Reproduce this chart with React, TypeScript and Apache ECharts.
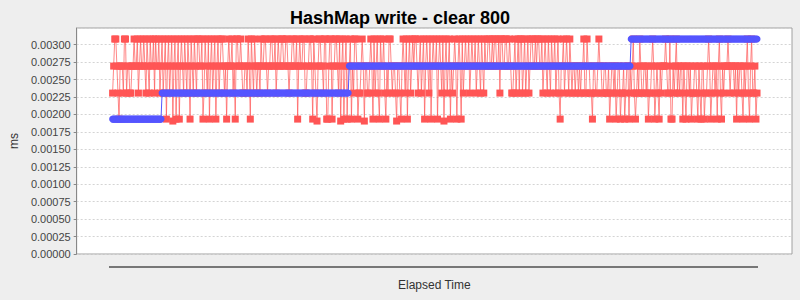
import React, { useEffect, useRef } from "react";
import * as echarts from "echarts";

// Discrete timing levels (ms)
const levels = [0.001934, 0.002307, 0.002694, 0.003082, 0.001906];

// Red series: level index per sample (0..4 -> levels), 20 samples per block
const redCodeBlocks = [
  "12332102221331221122", "32231232232132132231", "32231231230231234230",
  "23023213213203213213", "32230132130231230231", "23321202322312033223",
  "21122132032132122132", "23321223322312322332", "23321223322302322331",
  "12233203214233221330", "02330223321342302302", "23021332011232422112",
  "32031231032231021332", "12214221023213023123", "23321231230232130232",
  "23023213423123021232", "02320312322312322312", "32132132233223233223",
  "13322332232112312313", "31231231233223233223", "12321321322312310223",
  "12321321221221212231", "13221102211232211221", "12012212012201120122",
  "02123101213211221201", "12320121021222321130", "02123121220210221201",
  "12210210220112320122", "12023102122232122212", "02122102123102311201",
];

// Blue series: runs of [level index, sample count]
const blueRuns: [number, number][] = [
  [0, 46],
  [1, 174],
  [2, 262],
  [3, 118],
];

const yMin = 0;
const yMax = 0.00324;
const yInterval = 0.00025;

const FONT = "'Liberation Sans', Arial, sans-serif";

export default function App() {
  const ref = useRef<HTMLDivElement>(null);

  useEffect(() => {
    if (!ref.current) return;
    const chart = echarts.init(ref.current, undefined, { renderer: "svg" });

    const redCodes = redCodeBlocks.join("").split("").map(Number);
    const redData = redCodes.map((c, i) => [i, levels[c]]);
    const blueData: number[][] = [];
    blueRuns.forEach(([lv, n]) => {
      for (let k = 0; k < n; k++) blueData.push([blueData.length, levels[lv]]);
    });
    const last = redCodes.length - 1;

    chart.setOption({
      animation: false,
      backgroundColor: "#eeeeee",
      title: {
        text: "HashMap write - clear 800",
        left: "center",
        top: 4,
        textStyle: { fontSize: 18, fontWeight: "bold", color: "#000", fontFamily: FONT },
      },
      grid: {
        left: 76,
        right: 8,
        top: 28,
        bottom: 46,
        show: true,
        backgroundColor: "#ffffff",
        borderColor: "#a0a0a0",
        borderWidth: 1,
      },
      xAxis: {
        type: "value",
        min: -33.4,
        max: last + 32.5,
        name: "Elapsed Time",
        nameLocation: "middle",
        nameGap: 25,
        nameTextStyle: { fontSize: 12, color: "#333", fontFamily: FONT },
        axisLine: { show: false },
        axisTick: { show: false },
        axisLabel: { show: false },
        splitLine: { show: false },
      },
      yAxis: {
        type: "value",
        min: yMin,
        max: yMax,
        interval: yInterval,
        name: "ms",
        nameLocation: "middle",
        nameGap: 42,
        nameTextStyle: { fontSize: 12, color: "#333", fontFamily: FONT },
        axisLine: { show: true, onZero: false, lineStyle: { color: "#888" } },
        axisTick: { show: true, length: 3, lineStyle: { color: "#888" } },
        axisLabel: {
          fontSize: 11,
          color: "#444",
          fontFamily: FONT,
          margin: 6,
          showMaxLabel: false,
          formatter: (v: number) => v.toFixed(5),
        },
        splitLine: {
          show: true,
          lineStyle: { color: "#d4d4d4", type: [2, 2], width: 1 },
        },
      },
      graphic: [
        {
          type: "line",
          shape: { x1: 109, y1: 267, x2: 758, y2: 267 },
          style: { stroke: "#000", lineWidth: 1 },
          silent: true,
        },
      ],
      series: [
        {
          type: "line",
          data: redData,
          symbol: "rect",
          symbolSize: 7,
          showAllSymbol: true,
          itemStyle: { color: "#ff5555" },
          lineStyle: { color: "#ff5555", width: 1, opacity: 0.7 },
          z: 2,
        },
        {
          type: "line",
          data: blueData,
          symbol: "circle",
          symbolSize: 7,
          showAllSymbol: true,
          itemStyle: { color: "#5555ff" },
          lineStyle: { color: "#5555ff", width: 1 },
          z: 3,
        },
      ],
    });

    return () => chart.dispose();
  }, []);

  return (
    <div
      ref={ref}
      style={{ position: "fixed", left: 0, top: 0, width: 800, height: 300 }}
    />
  );
}
